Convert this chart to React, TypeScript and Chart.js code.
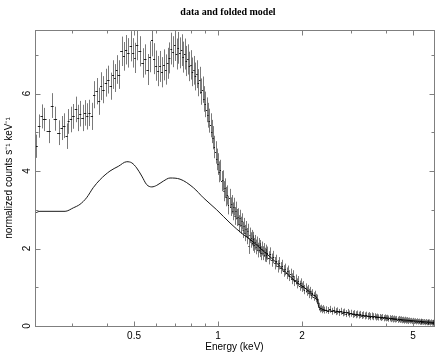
import React, { useEffect, useRef } from "react";
import { Chart, registerables } from "chart.js";

Chart.register(...registerables);

// ---------- text ----------
const TITLE = "data and folded model";
const X_LABEL = "Energy (keV)";
const Y_LABEL = "normalized counts s\u207B\u00B9 keV\u207B\u00B9";

// ---------- axes ----------
const X_MIN = 0.2208;
const X_MAX = 5.946;
const Y_MIN = 0;
const Y_MAX = 7.64;
const X_MAJOR = [0.5, 1, 2, 5];
const X_MINOR = [0.3, 0.4, 0.6, 0.7, 0.8, 0.9, 3, 4];
const Y_MAJOR = [0, 2, 4, 6];
const Y_MINOR = [1, 3, 5, 7];

// ---------- data (keV, counts s^-1 keV^-1) ----------
const energy = [
  0.223, 0.229, 0.233, 0.238, 0.248, 0.255, 0.260, 0.270, 0.275, 0.281,
  0.287, 0.291, 0.297, 0.303, 0.310, 0.316, 0.320, 0.327, 0.334, 0.340,
  0.346, 0.353, 0.360, 0.367, 0.375, 0.381, 0.388, 0.397, 0.404, 0.413,
  0.421, 0.427, 0.433, 0.440, 0.452, 0.460, 0.468, 0.477, 0.487, 0.497,
  0.504, 0.511, 0.525, 0.537, 0.548,
  0.56, 0.57, 0.58, 0.59, 0.60, 0.61, 0.62, 0.63, 0.64, 0.65,
  0.66, 0.67, 0.68, 0.69, 0.70, 0.71, 0.72, 0.73, 0.74, 0.75,
  0.76, 0.77, 0.78, 0.79, 0.80, 0.81, 0.82, 0.83, 0.84, 0.85,
  0.86, 0.87, 0.88, 0.89, 0.90, 0.91, 0.92, 0.93, 0.94, 0.95,
  0.96, 0.97, 0.98, 0.99, 1.00, 1.01, 1.02, 1.03, 1.04, 1.05,
  1.06, 1.07, 1.08, 1.09, 1.10, 1.11, 1.12, 1.13, 1.14, 1.15,
  1.16, 1.17, 1.18, 1.19, 1.20, 1.21, 1.22, 1.23, 1.24, 1.25,
  1.26, 1.27, 1.28, 1.29, 1.30, 1.31, 1.32, 1.33, 1.34, 1.35,
  1.36, 1.37, 1.38, 1.39, 1.40, 1.41, 1.42, 1.43, 1.44, 1.45,
  1.46, 1.47, 1.48, 1.49, 1.50,
  1.52, 1.54, 1.56, 1.58, 1.60, 1.62, 1.64, 1.66, 1.68, 1.70,
  1.72, 1.74, 1.76, 1.78, 1.80, 1.82, 1.84, 1.86, 1.88, 1.90,
  1.92, 1.94, 1.96, 1.98, 2.00, 2.02, 2.04, 2.06, 2.08, 2.10,
  2.12, 2.14, 2.16, 2.18, 2.20, 2.22, 2.24, 2.26, 2.28, 2.30,
  2.32, 2.34, 2.36, 2.38, 2.40,
  2.44, 2.48, 2.52, 2.56, 2.60, 2.64, 2.68, 2.72, 2.76, 2.80,
  2.84, 2.88, 2.92, 2.96, 3.00, 3.04, 3.08, 3.12, 3.16, 3.20,
  3.24, 3.28, 3.32, 3.36, 3.40, 3.44, 3.48, 3.52, 3.56, 3.60,
  3.64, 3.68, 3.72, 3.76, 3.80, 3.84, 3.88, 3.92, 3.96, 4.00,
  4.04, 4.08, 4.12, 4.16, 4.20, 4.24, 4.28, 4.32, 4.36, 4.40,
  4.44, 4.48, 4.52, 4.56, 4.60, 4.64, 4.68, 4.72, 4.76, 4.80,
  4.84, 4.88, 4.92, 4.96, 5.00, 5.04, 5.08, 5.12, 5.16, 5.20,
  5.24, 5.28, 5.32, 5.36, 5.40, 5.44, 5.48, 5.52, 5.56, 5.60,
  5.64, 5.68, 5.72, 5.76, 5.80, 5.84, 5.88, 5.92,
];

const rate = [
  4.64, 5.16, 5.41, 5.33, 5.03, 5.69, 5.35, 4.99, 5.11, 5.17,
  4.90, 5.28, 5.33, 5.41, 5.59, 5.37, 5.48, 5.37, 5.50, 5.41,
  5.50, 5.41, 5.97, 6.06, 5.80, 6.19, 6.10, 6.28, 6.36, 6.19,
  6.49, 6.40, 6.62, 6.49, 7.09, 6.96, 7.13, 7.05, 7.22, 7.05,
  6.92, 7.26, 7.09, 6.79, 6.88,
  6.62, 6.95, 7.38, 6.90, 6.72, 6.58, 6.70, 6.55, 6.74, 6.62,
  6.78, 6.92, 7.16, 7.08, 7.25, 7.02, 7.18, 7.05, 7.12, 6.94,
  7.02, 6.84, 6.88, 6.70, 6.74, 6.56, 6.60, 6.44, 6.50, 6.28,
  6.34, 6.05, 6.10, 5.86, 5.72, 5.58, 5.44, 5.30, 5.18, 5.02,
  4.86, 4.62, 4.48, 4.30, 4.18, 3.98, 4.02, 3.74, 3.76, 3.48,
  3.56, 3.34, 3.38, 3.12, 3.30, 3.08, 3.14, 2.96, 3.08, 2.84,
  2.98, 2.80, 2.82, 2.64, 2.78, 2.60, 2.70, 2.48, 2.58, 2.40,
  2.50, 2.32, 2.44, 2.06, 2.34, 2.22, 2.28, 2.14, 2.24, 2.08,
  2.16, 2.04, 2.12, 1.96, 2.08, 1.96, 2.04, 1.88, 2.00, 1.88,
  1.96, 1.84, 1.92, 1.82, 1.88,
  1.76, 1.86, 1.70, 1.78, 1.62, 1.68, 1.54, 1.62, 1.50, 1.56,
  1.42, 1.46, 1.36, 1.42, 1.30, 1.34, 1.22, 1.30, 1.16, 1.20,
  1.10, 1.16, 1.04, 1.10, 1.00, 1.04, 0.94, 0.98, 0.90, 0.94,
  0.84, 0.90, 0.80, 0.84, 0.76, 0.80, 0.72, 0.70, 0.60, 0.50,
  0.44, 0.46, 0.42, 0.45, 0.41,
  0.42, 0.40, 0.43, 0.38, 0.41, 0.37, 0.39, 0.35, 0.38, 0.34,
  0.36, 0.32, 0.35, 0.31, 0.33, 0.30, 0.32, 0.29, 0.31, 0.28,
  0.30, 0.27, 0.29, 0.26, 0.28, 0.25, 0.27, 0.24, 0.26, 0.24,
  0.25, 0.22, 0.24, 0.22, 0.23, 0.21, 0.23, 0.20, 0.22, 0.20,
  0.21, 0.19, 0.20, 0.18, 0.20, 0.17, 0.19, 0.17, 0.18, 0.16,
  0.18, 0.16, 0.17, 0.15, 0.16, 0.14, 0.16, 0.14, 0.15, 0.13,
  0.15, 0.13, 0.14, 0.12, 0.14, 0.12, 0.13, 0.11, 0.13, 0.11,
  0.12, 0.10, 0.12, 0.10, 0.11, 0.10, 0.11, 0.09, 0.11, 0.09,
  0.10, 0.09, 0.10, 0.08, 0.10, 0.08, 0.09, 0.08,
];

const rateErr = [
  0.30, 0.30, 0.31, 0.30, 0.31, 0.32, 0.31, 0.32, 0.31, 0.32,
  0.33, 0.32, 0.33, 0.32, 0.33, 0.34, 0.33, 0.34, 0.33, 0.34,
  0.34, 0.35, 0.35, 0.34, 0.35, 0.36, 0.35, 0.36, 0.36, 0.35,
  0.37, 0.36, 0.37, 0.37, 0.38, 0.37, 0.38, 0.38, 0.39, 0.38,
  0.39, 0.40, 0.39, 0.38, 0.39,
  0.40, 0.40, 0.42, 0.40, 0.39, 0.39, 0.40, 0.39, 0.40, 0.39,
  0.40, 0.40, 0.41, 0.40, 0.41, 0.40, 0.41, 0.40, 0.41, 0.40,
  0.40, 0.39, 0.39, 0.38, 0.38, 0.37, 0.37, 0.36, 0.36, 0.35,
  0.35, 0.34, 0.34, 0.33, 0.33, 0.32, 0.32, 0.31, 0.31, 0.30,
  0.30, 0.29, 0.29, 0.28, 0.28, 0.27, 0.27, 0.26, 0.26, 0.26,
  0.25, 0.25, 0.25, 0.24, 0.24, 0.24, 0.24, 0.23, 0.23, 0.23,
  0.23, 0.22, 0.22, 0.22, 0.22, 0.22, 0.21, 0.21, 0.21, 0.21,
  0.21, 0.21, 0.20, 0.20, 0.20, 0.20, 0.20, 0.20, 0.19, 0.19,
  0.19, 0.19, 0.19, 0.19, 0.19, 0.18, 0.18, 0.18, 0.18, 0.18,
  0.18, 0.18, 0.18, 0.17, 0.17,
  0.17, 0.17, 0.17, 0.16, 0.16, 0.16, 0.16, 0.16, 0.15, 0.15,
  0.15, 0.15, 0.15, 0.14, 0.14, 0.14, 0.14, 0.14, 0.13, 0.13,
  0.13, 0.13, 0.13, 0.13, 0.12, 0.12, 0.12, 0.12, 0.12, 0.12,
  0.12, 0.11, 0.11, 0.11, 0.11, 0.11, 0.11, 0.11, 0.10, 0.10,
  0.09, 0.09, 0.09, 0.09, 0.09,
  0.09, 0.09, 0.09, 0.09, 0.09, 0.09, 0.09, 0.09, 0.09, 0.09,
  0.09, 0.09, 0.09, 0.09, 0.09, 0.09, 0.09, 0.09, 0.09, 0.09,
  0.09, 0.09, 0.09, 0.09, 0.09, 0.09, 0.09, 0.09, 0.09, 0.09,
  0.08, 0.08, 0.08, 0.08, 0.08, 0.08, 0.08, 0.08, 0.08, 0.08,
  0.08, 0.08, 0.08, 0.08, 0.08, 0.08, 0.08, 0.08, 0.08, 0.08,
  0.08, 0.08, 0.08, 0.08, 0.08, 0.08, 0.08, 0.08, 0.08, 0.08,
  0.07, 0.07, 0.07, 0.07, 0.07, 0.07, 0.07, 0.07, 0.07, 0.07,
  0.07, 0.07, 0.07, 0.07, 0.07, 0.07, 0.07, 0.07, 0.07, 0.07,
  0.07, 0.07, 0.07, 0.07, 0.07, 0.07, 0.07, 0.07,
];

// ---------- folded model ----------
const modelEnergy = [
  0.222, 0.230, 0.283, 0.303, 0.320, 0.338, 0.357, 0.378, 0.410, 0.439,
  0.471, 0.491, 0.511, 0.533, 0.555, 0.579, 0.603, 0.637, 0.673, 0.731,
  0.816, 0.886, 0.989, 1.104, 1.232, 1.302, 1.450, 1.574, 1.753, 1.904,
  2.067, 2.190, 2.264, 2.301, 2.648, 3.047, 3.477, 4.001, 4.604, 5.297,
  5.946,
];
const modelRate = [
  2.92, 2.96, 2.96, 3.05, 3.14, 3.31, 3.57, 3.78, 4.00, 4.12,
  4.24, 4.21, 4.08, 3.87, 3.65, 3.59, 3.63, 3.74, 3.82, 3.79,
  3.57, 3.31, 3.00, 2.66, 2.36, 2.24, 1.94, 1.72, 1.38, 1.14,
  0.96, 0.80, 0.72, 0.48, 0.38, 0.31, 0.25, 0.21, 0.16, 0.12,
  0.09,
];

const FONT_SANS = '"Liberation Sans", Arial, Helvetica, sans-serif';
const FONT_SERIF = '"Liberation Serif", "Times New Roman", serif';
const FRAME_COLOR = "#7f7f7f";

function binEdges(e: number[], i: number): [number, number] {
  const n = e.length;
  const lo = i > 0 ? Math.sqrt(e[i - 1] * e[i]) : (e[i] * e[i]) / Math.sqrt(e[i] * e[i + 1]);
  const hi = i < n - 1 ? Math.sqrt(e[i] * e[i + 1]) : (e[i] * e[i]) / Math.sqrt(e[i - 1] * e[i]);
  return [lo, hi];
}

const errorBarPlugin = {
  id: "errorBars",
  afterDatasetsDraw(chart: any) {
    const { ctx, chartArea: a, scales } = chart;
    const xs = scales.x;
    const ys = scales.y;
    const n = Math.min(energy.length, rate.length, rateErr.length);
    ctx.save();
    ctx.beginPath();
    ctx.rect(a.left, a.top, a.right - a.left, a.bottom - a.top);
    ctx.clip();
    ctx.lineWidth = 1;
    ctx.strokeStyle = "rgba(0,0,0,0.52)";
    for (let i = 0; i < n; i++) {
      const px = Math.round(xs.getPixelForValue(energy[i])) + 0.5;
      const y1 = ys.getPixelForValue(rate[i] - rateErr[i]);
      const y2 = ys.getPixelForValue(rate[i] + rateErr[i]);
      ctx.beginPath();
      ctx.moveTo(px, y1);
      ctx.lineTo(px, y2);
      ctx.stroke();
    }
    ctx.strokeStyle = "rgba(0,0,0,0.85)";
    for (let i = 0; i < n; i++) {
      const [lo, hi] = binEdges(energy, i);
      const py = Math.round(ys.getPixelForValue(rate[i])) + 0.5;
      ctx.beginPath();
      ctx.moveTo(xs.getPixelForValue(lo), py);
      ctx.lineTo(xs.getPixelForValue(hi), py);
      ctx.stroke();
    }
    ctx.restore();
  },
};

const framePlugin = {
  id: "frameTicks",
  afterDraw(chart: any) {
    const { ctx, chartArea: a, scales } = chart;
    const xs = scales.x;
    const ys = scales.y;
    const L = Math.floor(a.left) + 0.5;
    const R = Math.floor(a.right) + 0.5;
    const T = Math.floor(a.top) + 0.5;
    const B = Math.floor(a.bottom) + 0.5;
    ctx.save();
    ctx.strokeStyle = FRAME_COLOR;
    ctx.lineWidth = 1;
    ctx.strokeRect(L, T, R - L, B - T);
    const xt = (v: number, len: number) => {
      const p = Math.round(xs.getPixelForValue(v)) + 0.5;
      ctx.beginPath();
      ctx.moveTo(p, B);
      ctx.lineTo(p, B - len);
      ctx.moveTo(p, T);
      ctx.lineTo(p, T + len);
      ctx.stroke();
    };
    const yt = (v: number, len: number) => {
      const p = Math.round(ys.getPixelForValue(v)) + 0.5;
      ctx.beginPath();
      ctx.moveTo(L, p);
      ctx.lineTo(L + len, p);
      ctx.moveTo(R, p);
      ctx.lineTo(R - len, p);
      ctx.stroke();
    };
    X_MAJOR.forEach((v) => xt(v, 5));
    X_MINOR.forEach((v) => xt(v, 3));
    Y_MAJOR.forEach((v) => yt(v, 5));
    Y_MINOR.forEach((v) => yt(v, 3));
    ctx.fillStyle = "#000";
    ctx.font = `bold 10px ${FONT_SERIF}`;
    ctx.textAlign = "center";
    ctx.textBaseline = "middle";
    ctx.fillText(TITLE, 228, 12);
    ctx.restore();
  },
};

export default function App() {
  const canvasRef = useRef<HTMLCanvasElement | null>(null);

  useEffect(() => {
    document.body.style.margin = "0";
    const canvas = canvasRef.current;
    if (!canvas) return;
    Chart.defaults.font.family = FONT_SANS;
    const chart = new Chart(canvas, {
      type: "scatter",
      data: {
        datasets: [
          {
            type: "line",
            label: "model",
            data: modelEnergy.map((e, i) => ({ x: e, y: modelRate[i] })),
            borderColor: "#1a1a1a",
            borderWidth: 1,
            pointRadius: 0,
            fill: false,
            cubicInterpolationMode: "monotone",
          } as any,
          {
            type: "scatter",
            label: "data",
            data: energy.map((e, i) => ({ x: e, y: rate[i] })),
            pointRadius: 0,
            showLine: false,
          } as any,
        ],
      },
      options: {
        animation: false,
        responsive: false,
        devicePixelRatio: 1,
        events: [],
        layout: { padding: { top: 30, right: 2, bottom: 0, left: 0 } },
        plugins: {
          legend: { display: false },
          tooltip: { enabled: false },
          title: { display: false },
        },
        scales: {
          x: {
            type: "logarithmic",
            min: X_MIN,
            max: X_MAX,
            afterBuildTicks: (s: any) => {
              s.ticks = [...X_MINOR, ...X_MAJOR].sort((a, b) => a - b).map((v) => ({ value: v }));
            },
            afterFit: (s: any) => {
              s.height = 28;
              s.paddingLeft = 0;
              s.paddingRight = 0;
            },
            grid: { display: false, drawTicks: false },
            border: { display: false },
            ticks: {
              autoSkip: false,
              maxRotation: 0,
              minRotation: 0,
              padding: 4,
              color: "#000",
              font: { family: FONT_SANS, size: 10 },
              callback: (v: any) => (X_MAJOR.includes(Number(v)) ? String(v) : ""),
            },
            title: {
              display: true,
              text: X_LABEL,
              color: "#000",
              font: { family: FONT_SANS, size: 10 },
              padding: { top: 0, bottom: 1 },
            },
          } as any,
          y: {
            type: "linear",
            min: Y_MIN,
            max: Y_MAX,
            afterBuildTicks: (s: any) => {
              s.ticks = [...Y_MAJOR, ...Y_MINOR].sort((a, b) => a - b).map((v) => ({ value: v }));
            },
            afterFit: (s: any) => {
              s.width = 35;
              s.paddingTop = 0;
              s.paddingBottom = 0;
            },
            grid: { display: false, drawTicks: false },
            border: { display: false },
            ticks: {
              autoSkip: false,
              minRotation: 90,
              maxRotation: 90,
              crossAlign: "center",
              padding: 5,
              color: "#000",
              font: { family: FONT_SANS, size: 10 },
              callback: (v: any) => (Y_MAJOR.includes(Number(v)) ? String(v) : ""),
            },
            title: {
              display: true,
              text: Y_LABEL,
              color: "#000",
              font: { family: FONT_SANS, size: 10 },
              padding: { top: 3, bottom: 0 },
            },
          } as any,
        },
      },
      plugins: [errorBarPlugin, framePlugin],
    });
    return () => chart.destroy();
  }, []);

  return (
    <div style={{ width: 436, height: 354 }}>
      <canvas ref={canvasRef} width={436} height={354} style={{ display: "block", width: 436, height: 354 }} />
    </div>
  );
}
